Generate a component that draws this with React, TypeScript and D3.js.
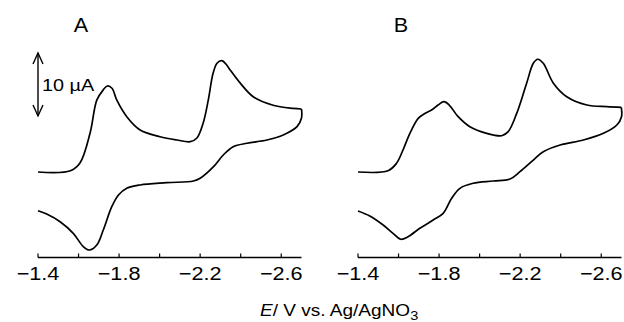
import * as d3 from "d3";
import React from "react";

// Cyclic voltammograms, potential in V vs Ag/AgNO3, current in µA (cathodic up)
const potentialTicks = [-1.4, -1.8, -2.2, -2.6];
const minorTicks = [-1.6, -2.0, -2.4];

const forwardA: [number, number][] = [
  [-1.4, 0], [-1.56, 0.2], [-1.607, 1.43], [-1.657, 6.19], [-1.69, 11.4], [-1.721, 13.0],
  [-1.742, 13.65], [-1.765, 13.3], [-1.789, 11.4], [-1.838, 8.78], [-1.904, 6.67], [-2.002, 5.6],
  [-2.085, 5.08], [-2.151, 4.81], [-2.184, 5.4], [-2.215, 7.78], [-2.24, 11.4], [-2.264, 15.7],
  [-2.284, 17.3], [-2.307, 17.67], [-2.328, 17.1], [-2.348, 16.2], [-2.398, 14.1], [-2.462, 11.95],
  [-2.56, 10.6], [-2.659, 10.1], [-2.7, 10.0],
];
const reverseA: [number, number][] = [
  [-2.7, 10.0], [-2.7, 8.57], [-2.678, 7.19], [-2.61, 5.87], [-2.529, 5.08], [-2.431, 4.56], [-2.363, 4.02],
  [-2.314, 2.7], [-2.266, 0.84], [-2.2, -1.0], [-2.167, -1.43], [-2.036, -1.7], [-1.904, -2.06],
  [-1.838, -2.59], [-1.797, -3.65], [-1.764, -5.51], [-1.722, -9.21], [-1.69, -11.59], [-1.653, -12.38],
  [-1.624, -11.86], [-1.574, -9.73], [-1.509, -7.89], [-1.443, -6.67], [-1.4, -6.14],
];
const forwardB: [number, number][] = [
  [-1.4, 0], [-1.548, 0.2], [-1.59, 1.38], [-1.622, 3.49], [-1.656, 6.14], [-1.697, 8.52],
  [-1.73, 9.3], [-1.763, 9.84], [-1.795, 10.63], [-1.824, 11.16], [-1.85, 10.63], [-1.894, 8.78],
  [-1.952, 7.19], [-2.035, 6.14], [-2.109, 5.76], [-2.141, 6.4], [-2.183, 9.3], [-2.232, 14.1],
  [-2.265, 17.25], [-2.287, 17.9], [-2.314, 17.25], [-2.364, 14.1], [-2.43, 11.95], [-2.529, 10.63],
  [-2.628, 10.37], [-2.699, 10.27],
];
const reverseB: [number, number][] = [
  [-2.699, 10.27], [-2.7, 8.78], [-2.677, 7.46], [-2.611, 6.14], [-2.512, 5.08], [-2.397, 4.29], [-2.314, 3.22],
  [-2.265, 1.9], [-2.199, 0.05], [-2.15, -1.11], [-2.067, -1.43], [-1.968, -1.79], [-1.903, -2.59],
  [-1.862, -4.17], [-1.82, -6.56], [-1.771, -7.62], [-1.705, -8.94], [-1.647, -10.27], [-1.611, -10.68],
  [-1.573, -9.73], [-1.524, -8.41], [-1.458, -6.98], [-1.4, -6.19],
];

const scaleBarTop = 18.9; // µA level of the top of the 10 µA bar
const scaleBarSize = 10;

const font = "'Liberation Sans', Arial, Helvetica, sans-serif";
const axisY = 257.5;
const stretch = 1.17; // the figure's lettering is a bit wider than tall

const yScale = d3.scaleLinear([0, 10], [172, 109]);

// text drawn with a horizontal stretch, anchored at (x, y)
const Label: React.FC<{ x: number; y: number; size: number; anchor?: string; sx?: number; children: React.ReactNode }> =
  ({ x, y, size, anchor = "start", sx = stretch, children }) => (
    <g transform={`translate(${x},${y}) scale(${sx},1)`}>
      <text textAnchor={anchor} fontSize={size} fontFamily={font}>{children}</text>
    </g>
  );

const Panel: React.FC<{ x0: number; label: string; fwd: [number, number][]; rev: [number, number][] }> = ({ x0, label, fwd, rev }) => {
  const x = d3.scaleLinear([-1.4, -2.7], [x0, x0 + 263.5]);
  const line = d3.line<[number, number]>()
    .x(d => x(d[0]))
    .y(d => yScale(d[1]))
    .curve(d3.curveCatmullRom.alpha(0.5));
  return (
    <g>
      <path d={line(fwd) ?? ""} fill="none" stroke="#000" strokeWidth={1.7} strokeLinejoin="round" />
      <path d={line(rev) ?? ""} fill="none" stroke="#000" strokeWidth={1.7} strokeLinejoin="round" />
      <line x1={x(-1.4)} x2={x(-2.7)} y1={axisY} y2={axisY} stroke="#000" strokeWidth={1.3} />
      {potentialTicks.concat(minorTicks).map(t => (
        <line key={t} x1={x(t)} x2={x(t)} y1={axisY} y2={axisY - 4} stroke="#000" strokeWidth={1.2} />
      ))}
      {potentialTicks.map(t => (
        <Label key={t} x={x(t)} y={280} size={18.5} anchor="middle">
          {"\u2212" + Math.abs(t).toFixed(1)}
        </Label>
      ))}
      <Label x={x0 + 43} y={32} size={20} anchor="middle" sx={1.08}>{label}</Label>
    </g>
  );
};

export default function App() {
  const barX = 38;
  const yTop = yScale(scaleBarTop);
  const yBot = yScale(scaleBarTop - scaleBarSize);
  return (
    <svg width={624} height={322} style={{ position: "absolute", left: 0, top: 0, background: "#fff" }}>
      <Panel x0={38} label="A" fwd={forwardA} rev={reverseA} />
      <Panel x0={358} label="B" fwd={forwardB} rev={reverseB} />
      <g stroke="#000" strokeWidth={1.4} fill="none">
        <line x1={barX} x2={barX} y1={yTop} y2={yBot} />
        <polyline points={`${barX - 5},${yTop + 11} ${barX},${yTop} ${barX + 5},${yTop + 11}`} />
        <polyline points={`${barX - 5},${yBot - 11} ${barX},${yBot} ${barX + 5},${yBot - 11}`} />
      </g>
      <Label x={42} y={91} size={16.5} sx={1.2}>10 µA</Label>
      <Label x={260} y={316} size={17} sx={1.12}>
        <tspan fontStyle="italic">E</tspan>
        <tspan>/ V vs. Ag/AgNO</tspan>
        <tspan dy={4} fontSize={13}>3</tspan>
      </Label>
    </svg>
  );
}
